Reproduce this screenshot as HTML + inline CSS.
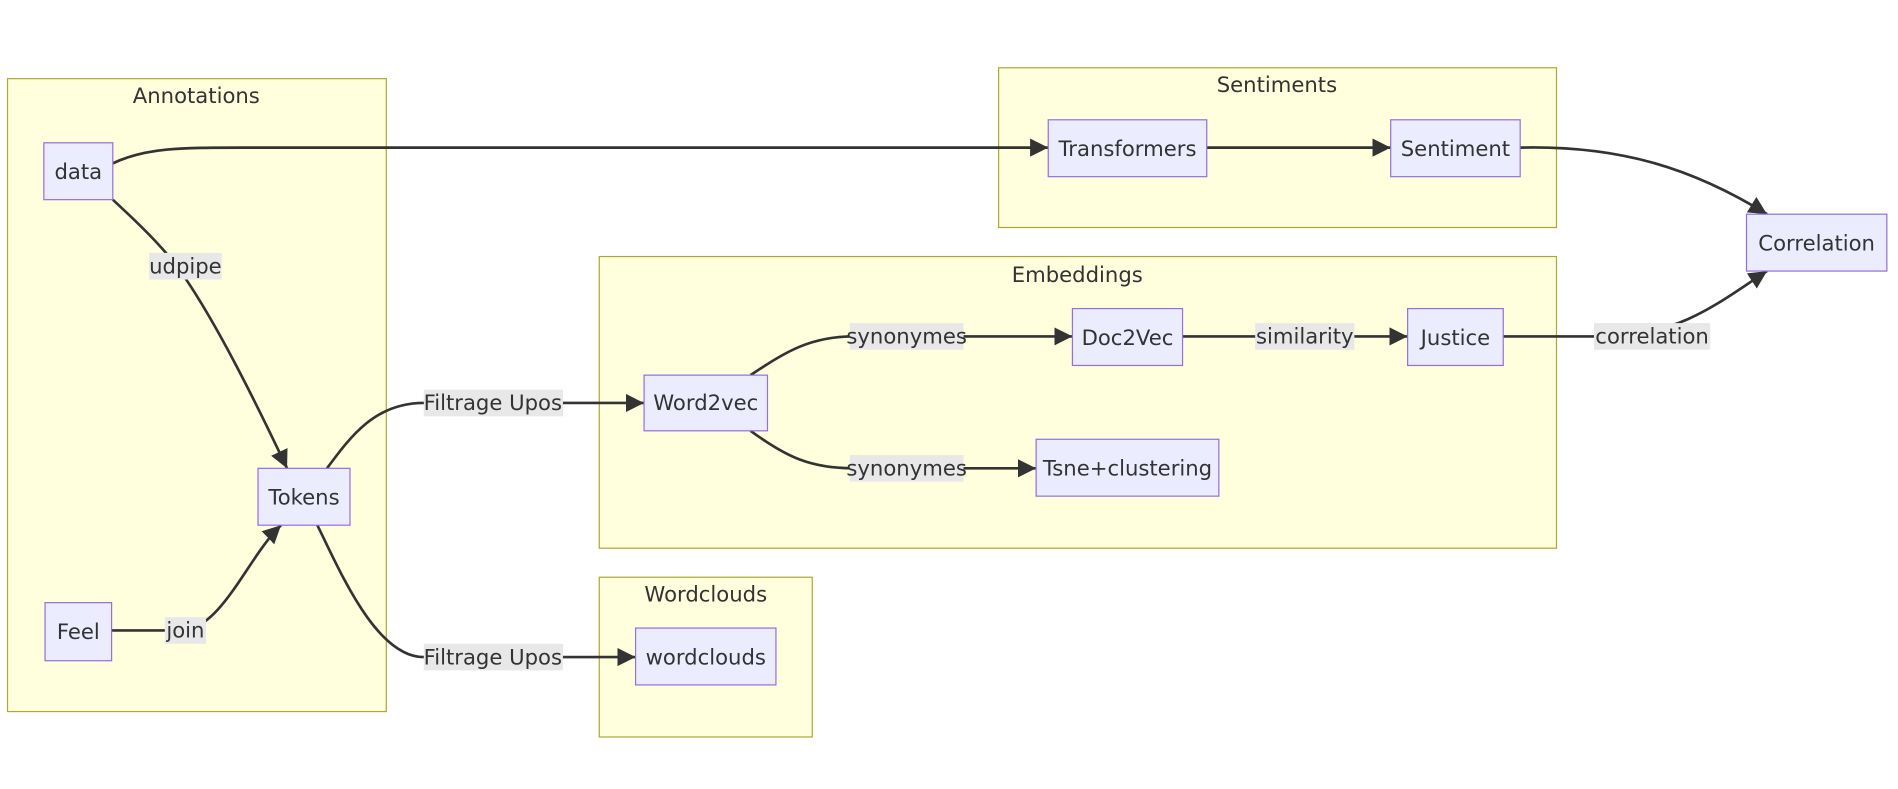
<!DOCTYPE html>
<html><head><meta charset="utf-8"><style>
html,body{margin:0;padding:0;background:#fff;width:1898px;height:789px;overflow:hidden}
text{font-family:"DejaVu Sans","Liberation Sans",sans-serif;fill:#333;font-size:17.5px}
.c{fill:#ffffde;stroke:#aaaa33;stroke-width:1}
.n{fill:#ececff;stroke:#9370db;stroke-width:1}
.e{fill:none;stroke:#333;stroke-width:2.2}
.l{fill:#e8e8e8}
</style></head><body>
<svg width="1898" height="789" viewBox="0 0 1568 652" xmlns="http://www.w3.org/2000/svg">
<defs>
<marker id="b" viewBox="0 0 10 10" refX="10" refY="5" markerWidth="15" markerHeight="15" orient="auto" markerUnits="userSpaceOnUse"><path d="M0,0L10,5L0,10z" fill="#333"/></marker></defs>
<rect class="c" x="6" y="65" width="313" height="523"/>
<rect class="c" x="825" y="56" width="461" height="132"/>
<rect class="c" x="495" y="212" width="791" height="241"/>
<rect class="c" x="495" y="477" width="176" height="132"/>
<g text-anchor="middle">
<text x="162" y="85">Annotations</text>
<text x="1055" y="76">Sentiments</text>
<text x="890" y="233">Embeddings</text>
<text x="583" y="497">Wordclouds</text>
</g>
<g marker-end="url(#b)">
<path class="e" d="M93,135 C120,122 150,122 200,122 L866,122"/>
<path class="e" d="M997,122 L1149,122"/>
<path class="e" d="M1256,122 C1340,120 1400,140 1460,177"/>
<path class="e" d="M1242,278 L1330,278 C1390,276 1420,250 1460,224"/>
<path class="e" d="M93,165 C120,190 140,210 153,230 C180,270 210,330 237,387"/>
<path class="e" d="M92,521 C120,521 140,521 153,521 C185,515 205,460 232,434"/>
<path class="e" d="M270,387 C290,360 310,333 350,333 L532,333"/>
<path class="e" d="M262,434 C280,470 310,543 350,543 L525,543"/>
<path class="e" d="M620,310 C650,290 670,278 705,278 L886,278"/>
<path class="e" d="M620,356 C650,378 670,387 705,387 L856,387"/>
<path class="e" d="M977,278 L1163,278"/>
</g>
<g text-anchor="middle">
<rect class="l" x="123" y="209" width="60" height="22"/><text x="153" y="226">udpipe</text>
<rect class="l" x="136" y="510" width="34" height="22"/><text x="153" y="527">join</text>
<rect class="l" x="350" y="322" width="115" height="22"/><text x="407" y="339">Filtrage Upos</text>
<rect class="l" x="350" y="532" width="115" height="22"/><text x="407" y="549">Filtrage Upos</text>
<rect class="l" x="702" y="267" width="94" height="22"/><text x="749" y="284">synonymes</text>
<rect class="l" x="702" y="376" width="94" height="22"/><text x="749" y="393">synonymes</text>
<rect class="l" x="1037" y="267" width="82" height="22"/><text x="1078" y="284">similarity</text>
<rect class="l" x="1317" y="267" width="96" height="22"/><text x="1365" y="284">correlation</text>
</g>
<g>
<rect class="n" x="36" y="118" width="57" height="47"/>
<rect class="n" x="213" y="387" width="76" height="47"/>
<rect class="n" x="37" y="498" width="55" height="48"/>
<rect class="n" x="866" y="99" width="131" height="47"/>
<rect class="n" x="1149" y="99" width="107" height="47"/>
<rect class="n" x="1443" y="177" width="116" height="47"/>
<rect class="n" x="532" y="310" width="102" height="46"/>
<rect class="n" x="886" y="255" width="91" height="47"/>
<rect class="n" x="1163" y="255" width="79" height="47"/>
<rect class="n" x="856" y="363" width="151" height="47"/>
<rect class="n" x="525" y="519" width="116" height="47"/>
</g>
<g text-anchor="middle">
<text x="64.5" y="148">data</text>
<text x="251" y="417">Tokens</text>
<text x="64.5" y="528">Feel</text>
<text x="931.5" y="129">Transformers</text>
<text x="1202.5" y="129">Sentiment</text>
<text x="1501" y="207">Correlation</text>
<text x="583" y="339">Word2vec</text>
<text x="931.5" y="285">Doc2Vec</text>
<text x="1202.5" y="285">Justice</text>
<text x="931.5" y="393">Tsne+clustering</text>
<text x="583" y="549">wordclouds</text>
</g>
</svg>
</body></html>
